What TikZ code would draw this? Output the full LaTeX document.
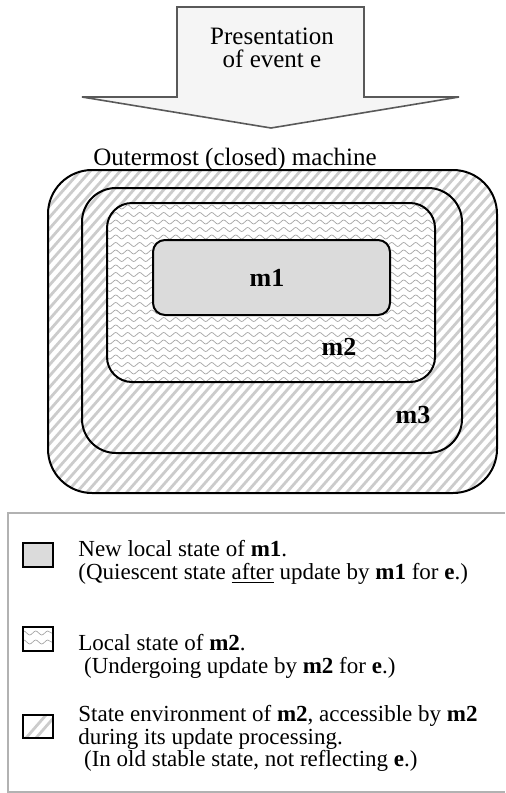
\documentclass[tikz,border=0pt]{standalone}
\usepackage{fontspec}
\setmainfont{Liberation Serif}
\usetikzlibrary{decorations.pathmorphing}
\tikzset{%
  machine/.style = {draw, line width=1pt, rounded corners=#1},
  hatch/.style   = {draw=black!20, line width=1.4pt},
  wave/.style    = {draw=black!35, line width=0.35pt, decorate,
    decoration={snake, amplitude=1pt, segment length=6pt}},
  swatch/.style  = {draw, line width=1pt},
  legtext/.style = {anchor=north west, inner sep=0pt, align=left,
    font=\fontsize{11.5}{11.2}\selectfont},
  mlabel/.style  = {font=\fontsize{13}{14}\selectfont\bfseries}
}

\begin{document}
\begin{tikzpicture}[x=0.5pt, y=-0.5pt]
\useasboundingbox (0,0) rectangle (505,793);

% event arrow
\draw[draw=black!65, fill=black!4, line width=0.8pt]
  (177,7) -- (364,7) -- (364,97) -- (459,97) -- (271,128)
  -- (82,97) -- (177,97) -- cycle;
\node[font=\fontsize{12.5}{11.5}\selectfont, align=center] (event) at (272,48)
  {Presentation\\of event e};
\node[anchor=base west, inner sep=0pt, font=\fontsize{12.5}{14}\selectfont]
  (outer) at (93,165) {Outermost (closed) machine};

% environment of m2 (hatched)
\begin{scope}
  \clip[rounded corners=22pt] (48,170) rectangle (497,493);
  \foreach \i in {-340,-330,...,500}
    \draw[hatch] (\i,500) -- ++(300,-340);
\end{scope}

% local state of m2 (wavy)
\fill[white, rounded corners=12.5pt] (107,203) rectangle (435,382);
\begin{scope}
  \clip[rounded corners=12.5pt] (107,203) rectangle (435,382);
  \foreach \y in {207,214.5,...,382}
    \draw[wave] (100,\y) -- (442,\y);
\end{scope}

% new local state of m1
\fill[black!14, rounded corners=6pt] (153,240) rectangle (390,315);

\draw[machine=22pt] (48,170) rectangle (497,493);
\draw[machine=17pt] (82,188) rectangle (462,453);
\draw[machine=12.5pt] (107,203) rectangle (435,382);
\draw[machine=6pt] (153,240) rectangle (390,315);

\node[mlabel] (m1) at (267,278) {m1};
\node[mlabel] (m2) at (339,347) {m2};
\node[mlabel] (m3) at (413,415) {m3};

% legend
\draw[black!30, line width=0.8pt] (505,513) -- (8,513) -- (8,792) -- (505,792);

\draw[swatch, fill=black!14] (23,543) rectangle (53,567);
\begin{scope}
  \clip (23,627) rectangle (53,651);
  \foreach \y in {633,642}
    \draw[wave] (20,\y) -- (56,\y);
\end{scope}
\draw[swatch] (23,627) rectangle (53,651);
\begin{scope}
  \clip (23,715) rectangle (53,738);
  \draw[hatch] (26,738) -- ++(20,-23);
  \draw[hatch] (36,738) -- ++(20,-23);
\end{scope}
\draw[swatch] (23,715) rectangle (53,738);

\node[legtext] (key1) at (78,540)
  {New local state of \textbf{m1}.\\(Quiescent state \underline{after} update by \textbf{m1} for \textbf{e}.)};
\node[legtext] (key2) at (78,634)
  {Local state of \textbf{m2}.\\\ (Undergoing update by \textbf{m2} for \textbf{e}.)};
\node[legtext] (key3) at (78,705)
  {State environment of \textbf{m2}, accessible by \textbf{m2}\\during its update processing.\\\ (In old stable state, not reflecting \textbf{e}.)};
\end{tikzpicture}
\end{document}
